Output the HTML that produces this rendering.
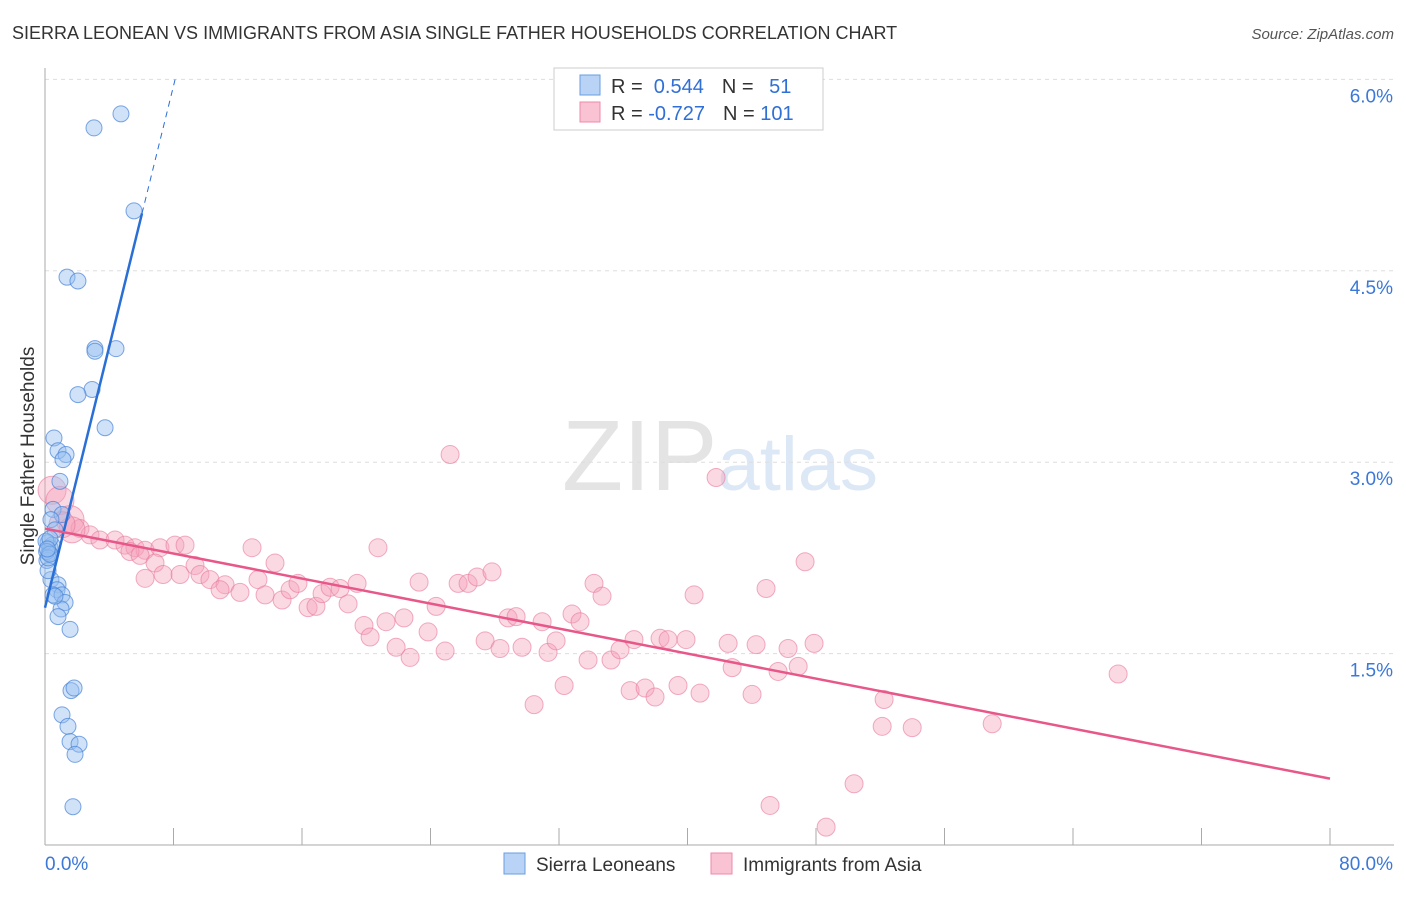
<!DOCTYPE html>
<html><head><meta charset="utf-8"><style>
body{margin:0;background:#fff;font-family:"Liberation Sans",sans-serif;}
svg text{font-family:"Liberation Sans",sans-serif;}
</style></head><body>
<svg id="chart" width="1406" height="892">
<text x="12" y="39" font-size="18" fill="#333">SIERRA LEONEAN VS IMMIGRANTS FROM ASIA SINGLE FATHER HOUSEHOLDS CORRELATION CHART</text>
<text x="1394" y="39" font-size="15" fill="#555" font-style="italic" text-anchor="end">Source: ZipAtlas.com</text>
<text x="720" y="490" font-size="100" fill="#e4e4e4" text-anchor="middle" font-family="Liberation Serif">ZIP<tspan fill="#dce8f6" font-family="Liberation Sans" font-size="76">atlas</tspan></text>
<g id="grid"></g><g id="axes"></g><g id="pts"></g><g id="lines"></g>
<text transform="translate(34,456) rotate(-90)" font-size="19" fill="#333" text-anchor="middle">Single Father Households</text>
<g>
<rect x="554" y="68" width="269" height="62" fill="#fff" stroke="#ccc"/>
<rect x="580" y="75" width="20" height="20" fill="#b8d3f5" stroke="#6a9de0"/>
<rect x="580" y="102" width="20" height="20" fill="#f9c3d3" stroke="#ee8aa8"/>
<text x="611" y="93" font-size="20" fill="#333">R = <tspan fill="#2f6fd6">&#160;0.544</tspan><tspan dx="18">N = </tspan><tspan fill="#2f6fd6" dx="10">51</tspan></text>
<text x="611" y="120" font-size="20" fill="#333">R = <tspan fill="#2f6fd6">-0.727</tspan><tspan dx="18">N = </tspan><tspan fill="#2f6fd6">101</tspan></text>
</g>
<g>
<rect x="504" y="853" width="21" height="21" fill="#b8d3f5" stroke="#6a9de0"/>
<text x="536" y="871" font-size="19" fill="#333">Sierra Leoneans</text>
<rect x="711" y="853" width="21" height="21" fill="#f9c3d3" stroke="#ee8aa8"/>
<text x="743" y="871" font-size="19" fill="#333">Immigrants from Asia</text>
</g>
</svg>
<script>
const yTicks=[1.5,3.0,4.5,6.0];
const yTickLabels=["1.5%","3.0%","4.5%","6.0%"];
const xTicks=[0,8,16,24,32,40,48,56,64,72,80];
const blueX=[3.05,4.73,5.54,1.37,2.05,3.11,3.11,4.42,2.93,2.05,3.74,0.56,0.81,1.31,1.12,0.93,0.5,1.06,0.37,0.62,0.19,0.31,0.25,0.37,0.81,0.75,0.5,1.06,1.25,1.0,0.81,1.56,1.62,1.81,1.06,1.43,1.56,2.12,1.87,1.74,0.12,0.19,0.44,0.06,0.31,0.62,0.1,0.2,0.3,0.15];
const blueY=[5.62,5.73,4.97,4.45,4.42,3.89,3.87,3.89,3.57,3.53,3.27,3.19,3.09,3.06,3.02,2.85,2.63,2.59,2.55,2.47,2.37,2.33,2.29,2.08,2.04,2.0,1.96,1.96,1.9,1.85,1.79,1.69,1.21,1.23,1.02,0.93,0.81,0.79,0.71,0.3,2.23,2.15,2.35,2.38,2.4,1.95,2.3,2.25,2.28,2.32];
const pinkX=[0.44,0.93,1.56,2.18,2.80,3.42,4.36,4.98,5.60,6.23,7.16,8.09,8.72,5.29,5.92,6.85,6.23,7.35,8.41,9.34,9.65,10.27,11.21,10.90,12.14,12.89,14.32,13.26,13.70,14.76,15.26,15.75,16.38,16.87,17.25,17.75,18.37,18.87,19.43,20.73,19.86,20.24,21.23,21.86,22.35,22.73,23.29,23.85,24.35,24.91,25.22,25.72,26.34,26.90,27.83,27.40,28.33,28.83,29.33,29.70,30.45,30.95,31.32,31.82,32.32,32.81,33.31,33.81,34.18,34.68,35.24,35.80,36.43,36.67,37.36,37.98,38.29,38.79,39.41,39.91,40.41,40.78,41.78,42.53,42.78,44.02,44.27,44.89,45.14,45.64,46.26,46.89,47.32,47.88,48.63,50.37,52.12,52.24,53.99,58.97,66.81,1.68,1.06];
const pinkY=[2.78,2.70,2.55,2.48,2.43,2.39,2.39,2.35,2.33,2.31,2.33,2.35,2.35,2.30,2.27,2.21,2.09,2.12,2.12,2.19,2.12,2.08,2.04,2.00,1.98,2.33,2.21,2.08,1.96,1.92,2.00,2.05,1.86,1.87,1.97,2.02,2.01,1.89,2.05,2.33,1.72,1.63,1.75,1.55,1.78,1.47,2.06,1.67,1.87,1.52,3.06,2.05,2.05,2.10,2.14,1.60,1.54,1.78,1.79,1.55,1.10,1.75,1.51,1.60,1.25,1.81,1.75,1.45,2.05,1.95,1.45,1.53,1.21,1.61,1.23,1.16,1.62,1.61,1.25,1.61,1.96,1.19,2.88,1.58,1.39,1.18,1.57,2.01,0.31,1.36,1.54,1.40,2.22,1.58,0.14,0.48,0.93,1.14,0.92,0.95,1.34,2.47,2.51];
const blueLine=[0,1.86,6.04,4.95], blueDash=[6.04,4.95,8.1,6.0];
const pinkLine=[0,2.48,80,0.52];
const NS="http://www.w3.org/2000/svg";
const X=v=>45+v*16.0625, Y=v=>845-v*127.6;
function mk(t,a,p){const e=document.createElementNS(NS,t);for(const k in a)e.setAttribute(k,a[k]);p.appendChild(e);return e;}
const grid=document.getElementById('grid'),axes=document.getElementById('axes'),pts=document.getElementById('pts'),lines=document.getElementById('lines');
yTicks.forEach((t,i)=>{
 const l=mk('line',{x1:45,x2:1394,y1:Y(t),y2:Y(t),stroke:'#ddd','stroke-dasharray':'4,4'},grid);
 
 const tx=mk('text',{x:1393,y:Y(t)+23,'font-size':19,fill:'#3b78d8','text-anchor':'end'},axes);
 tx.textContent=yTickLabels[i];
});
mk('line',{x1:45,x2:45,y1:68,y2:845,stroke:'#aaa'},axes);
mk('line',{x1:45,x2:1394,y1:845,y2:845,stroke:'#aaa'},axes);
xTicks.forEach(t=>{const l=mk('line',{x1:X(t),x2:X(t),y1:828,y2:845,stroke:'#aaa'},axes);});
const x0=mk('text',{x:45,y:870,'font-size':19,fill:'#3b78d8'},axes);x0.textContent='0.0%';
const x1=mk('text',{x:1393,y:870,'font-size':19,fill:'#3b78d8','text-anchor':'end'},axes);x1.textContent='80.0%';
pinkX.forEach((v,i)=>{const r=i<3?14:(i>=pinkX.length-2?13:9);const c=mk('circle',{cx:X(v),cy:Y(pinkY[i]),r:r,fill:'rgba(246,160,185,0.4)',stroke:'rgba(232,120,155,0.6)'},pts);
 });
blueX.forEach((v,i)=>{const c=mk('circle',{cx:X(v),cy:Y(blueY[i]),r:8,fill:'rgba(150,190,240,0.45)',stroke:'rgba(70,130,215,0.7)'},pts);
 });
let l=mk('line',{x1:X(blueLine[0]),y1:Y(blueLine[1]),x2:X(blueLine[2]),y2:Y(blueLine[3]),stroke:'#2a6fd6','stroke-width':2.5},lines);
l=mk('line',{x1:X(blueDash[0]),y1:Y(blueDash[1]),x2:X(blueDash[2]),y2:Y(blueDash[3]),stroke:'#2a6fd6','stroke-width':1,'stroke-dasharray':'6,5'},lines);
l=mk('line',{x1:X(pinkLine[0]),y1:Y(pinkLine[1]),x2:X(pinkLine[2]),y2:Y(pinkLine[3]),stroke:'#e8578a','stroke-width':2.5},lines);
</script>
</body></html>
